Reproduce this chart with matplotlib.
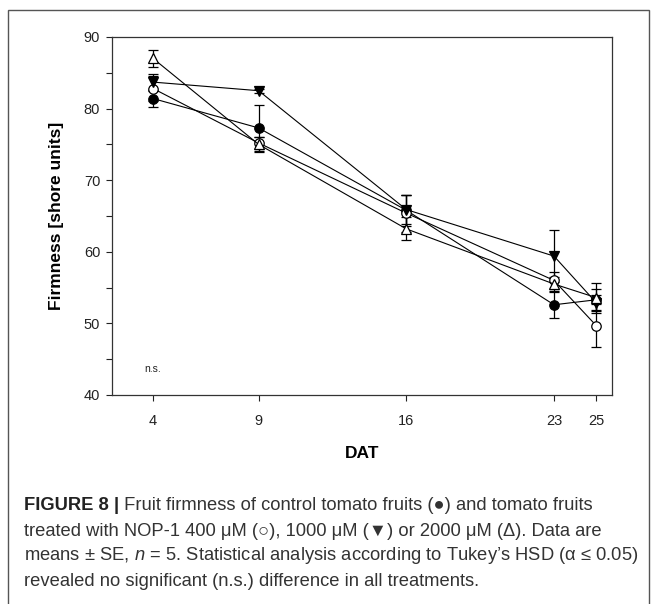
import matplotlib
matplotlib.use("Agg")
import matplotlib.pyplot as plt
from matplotlib.patches import Rectangle

plt.rcParams['font.family'] = ['Liberation Sans', 'DejaVu Sans']
plt.rcParams['mathtext.fontset'] = 'custom'
plt.rcParams['mathtext.rm'] = 'Liberation Sans'
plt.rcParams['mathtext.it'] = 'Liberation Sans:italic'

days = [4, 9, 16, 23, 25]
control = [81.4, 77.3, 65.8, 52.6, 53.3]
control_se = [1.2, 3.2, 2.2, 1.8, 1.5]
nop400 = [82.8, 75.2, 65.4, 56.0, 49.7]
nop400_se = [1.8, 0.8, 2.6, 1.2, 3.0]
nop1000 = [83.7, 82.5, 65.9, 59.4, 52.9]
nop1000_se = [1.2, 0.3, 2.0, 3.6, 1.0]
nop2000 = [87.0, 75.0, 63.2, 55.5, 53.6]
nop2000_se = [1.2, 1.0, 1.6, 1.0, 2.1]
yticks = [40, 50, 60, 70, 80, 90]
yminor = [45, 55, 65, 75, 85]

W, H = 657, 604
fig = plt.figure(figsize=(W / 100, H / 100), dpi=100)

# outer frame (bottom edge runs off the picture)
fig.add_artist(Rectangle((8 / W, -0.05), (649 - 8) / W, 1 - 10 / H + 0.05,
                         transform=fig.transFigure, fill=False,
                         edgecolor='#555555', linewidth=1.0))

ax = fig.add_axes([112 / W, 1 - 395 / H, 500 / W, 358 / H])

series = [
    (control, control_se, dict(marker='o', mfc='black', mec='black')),
    (nop400, nop400_se, dict(marker='o', mfc='white', mec='black')),
    (nop1000, nop1000_se, dict(marker='v', mfc='black', mec='black')),
    (nop2000, nop2000_se, dict(marker='^', mfc='white', mec='black')),
]
for vals, se, st in series:
    ax.errorbar(days, vals, yerr=se, color='black', lw=0.8, elinewidth=0.9,
                capsize=3.8, capthick=0.9, markersize=6.8, mew=0.9, zorder=3, **st)

ax.set_xlim(2.05, 25.75)
ax.set_ylim(40, 90)
ax.set_xticks(days)
ax.set_xticklabels([str(d) for d in days])
ax.set_yticks(yticks)
ax.set_yticks(yminor, minor=True)
ax.tick_params(axis='both', which='both', direction='out', length=4.5,
               width=0.8, labelsize=10.5, colors='#222222')
ax.tick_params(axis='x', which='major', pad=9)
ax.tick_params(axis='y', which='major', pad=4)
for s in ax.spines.values():
    s.set_linewidth(0.9)
    s.set_color('#333333')

ax.set_xlabel('DAT', fontsize=12.5, fontweight='bold', labelpad=13)
ax.set_ylabel('Firmness [shore units]', fontsize=12.5, fontweight='bold', labelpad=14)
ax.text(4, 43.6, 'n.s.', fontsize=7.5, ha='center', va='center', color='#222222')

# caption
fs = 13.2
x0 = 24 / W
ccol = '#333333'
t1 = fig.text(x0, 1 - 505 / H, 'FIGURE 8 |', fontsize=fs, fontweight='bold',
              va='center', ha='left', color='#222222')
ax.annotate(' Fruit firmness of control tomato fruits (●) and tomato fruits',
            xy=(1, 0.5), xycoords=t1, va='center', ha='left', fontsize=fs,
            color=ccol, annotation_clip=False)
fig.text(x0, 1 - 531 / H,
         'treated with NOP-1 400 μM (○), 1000 μM (▼) or 2000 μM (Δ). Data are',
         fontsize=fs, va='center', ha='left', color=ccol)
fig.text(x0, 1 - 556 / H,
         r'means $\pm$ SE, $n$ = 5. Statistical analysis according to Tukey’s HSD (α ≤ 0.05)',
         fontsize=fs, va='center', ha='left', color=ccol)
fig.text(x0, 1 - 581 / H,
         'revealed no significant (n.s.) difference in all treatments.',
         fontsize=fs, va='center', ha='left', color=ccol)

fig.savefig('out.png', dpi=100)
